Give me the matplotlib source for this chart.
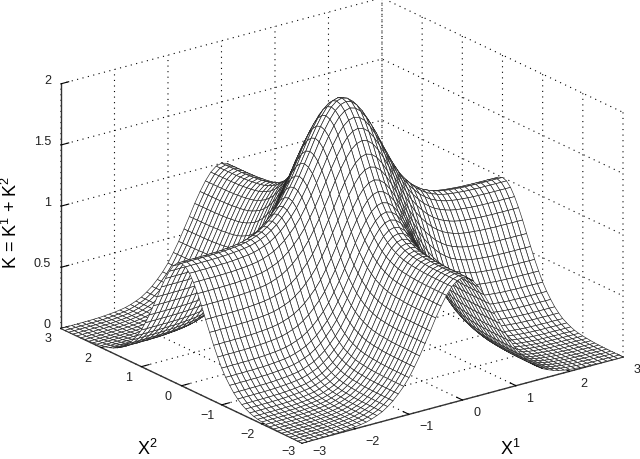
import matplotlib
matplotlib.use("Agg")
import matplotlib.pyplot as plt
import numpy as np
from mpl_toolkits.mplot3d import proj3d

plt.rcParams["font.family"] = ["Liberation Sans", "DejaVu Sans"]
plt.rcParams["mathtext.fontset"] = "custom"
plt.rcParams["mathtext.rm"] = "Liberation Sans"
plt.rcParams["mathtext.default"] = "rm"
plt.rcParams["grid.linestyle"] = (0, (1, 4))
plt.rcParams["grid.color"] = "black"
plt.rcParams["grid.linewidth"] = 0.8

# grid of the mesh, one ridge profile
x1 = [-3.0, -2.9, -2.8, -2.7, -2.6, -2.5, -2.4, -2.3, -2.2, -2.1, -2.0, -1.9, -1.8, -1.7, -1.6,
      -1.5, -1.4, -1.3, -1.2, -1.1, -1.0, -0.9, -0.8, -0.7, -0.6, -0.5, -0.4, -0.3, -0.2, -0.1,
      0.0, 0.1, 0.2, 0.3, 0.4, 0.5, 0.6, 0.7, 0.8, 0.9, 1.0, 1.1, 1.2, 1.3, 1.4, 1.5, 1.6, 1.7,
      1.8, 1.9, 2.0, 2.1, 2.2, 2.3, 2.4, 2.5, 2.6, 2.7, 2.8, 2.9, 3.0]
x2 = list(x1)
ridge = [0.0, 0.0, 0.001, 0.001, 0.002, 0.002, 0.004, 0.005, 0.008, 0.012, 0.016, 0.022, 0.03,
         0.043, 0.06, 0.08, 0.11, 0.145, 0.19, 0.24, 0.30, 0.375, 0.455, 0.545, 0.635, 0.73,
         0.815, 0.89, 0.95, 0.987, 1.0, 0.987, 0.95, 0.89, 0.815, 0.73, 0.635, 0.545, 0.455,
         0.375, 0.30, 0.24, 0.19, 0.145, 0.11, 0.08, 0.06, 0.043, 0.03, 0.022, 0.016, 0.012,
         0.008, 0.005, 0.004, 0.002, 0.002, 0.001, 0.001, 0.0, 0.0]

x_ticks = [-3, -2, -1, 0, 1, 2, 3]
x_labels = ["\u22123", "\u22122", "\u22121", "0", "1", "2", "3"]
z_ticks = [0, 0.5, 1, 1.5, 2]
z_labels = ["0", "0.5", "1", "1.5", "2"]

K1, K2 = np.meshgrid(ridge, ridge)
X1, X2 = np.meshgrid(x1, x2)
K = K1 + K2

fig = plt.figure(figsize=(6.4, 4.59), dpi=100)
ax = fig.add_axes([0, 0, 1, 1], projection="3d", proj_type="ortho")
ax.view_init(elev=20.9, azim=-126.9)
ax.set_box_aspect((400, 400, 261))
ax.patch.set_alpha(0)

ax.plot_surface(X1, X2, K, rstride=1, cstride=1, color="white", shade=False,
                edgecolor="#222222", linewidth=0.45)

ax.set_xlim(-3, 3)
ax.set_ylim(-3, 3)
ax.set_zlim(0, 2)
ax.set_xticks(x_ticks)
ax.set_yticks(x_ticks)
ax.set_zticks(z_ticks)
ax.set_xticklabels([""] * 7)
ax.set_yticklabels([""] * 7)
ax.set_zticklabels([""] * 5)

for axis in (ax.xaxis, ax.yaxis, ax.zaxis):
    axis.set_pane_color((1, 1, 1, 0))
    axis.pane.set_edgecolor((1, 1, 1, 0))
    axis.line.set_color("#333333")
    axis.line.set_linewidth(1.0)
    axis._axinfo["tick"]["inward_factor"] = 0.0
    axis._axinfo["tick"]["outward_factor"] = 0.3
    axis._axinfo["tick"]["linewidth"] = {True: 0.8, False: 0.5}
    axis._axinfo["tick"]["color"] = "#333333"


def project(x, y, z):
    px, py, _ = proj3d.proj_transform(x, y, z, ax.get_proj())
    return px, py


def to_pixels(x, y, z):
    u, v = ax.transData.transform(project(x, y, z))
    return u, 459 - v


# fit the box to the corners measured on the reference
fig.canvas.draw()
u0, v0 = to_pixels(-3, -3, 0)
u1, v1 = to_pixels(3, -3, 0)
scale = 321 / (u1 - u0)
side = 459 * scale
ax.set_position([0, 0, side / 640, side / 459])
fig.canvas.draw()
u0, v0 = to_pixels(-3, -3, 0)
ax.set_position([(302 - u0) / 640, (v0 - 443) / 459, side / 640, side / 459])

# tick labels sit where MATLAB put them, offsets in pixels from the tick
for t, lab in zip(x_ticks, x_labels):
    dx = 17 if t < 0 else 14
    dy = -9 if t == -3 else -13
    ax.annotate(lab, project(t, -3, 0), xytext=(dx, dy), textcoords="offset pixels",
                fontsize=9, ha="center", va="center", color="#222222")
    dx = -14 if t < 0 else -13
    dy = -9 if t == -3 else -11
    ax.annotate(lab, project(-3, t, 0), xytext=(dx, dy), textcoords="offset pixels",
                fontsize=9, ha="center", va="center", color="#222222")
for t, lab in zip(z_ticks, z_labels):
    ax.annotate(lab, project(-3, 3, t), xytext=(-10, 3), textcoords="offset pixels",
                fontsize=9, ha="right", va="center", color="#222222")

fig.text(11 / 640, 1 - 222 / 459, "K = K$^1$ + K$^2$", rotation=90, fontsize=13,
         ha="center", va="center")
fig.text(137 / 640, 1 - 455 / 459, "X$^2$", fontsize=13, ha="left", va="baseline")
fig.text(500 / 640, 1 - 455 / 459, "X$^1$", fontsize=13, ha="left", va="baseline")

fig.savefig("out.png", dpi=100)
